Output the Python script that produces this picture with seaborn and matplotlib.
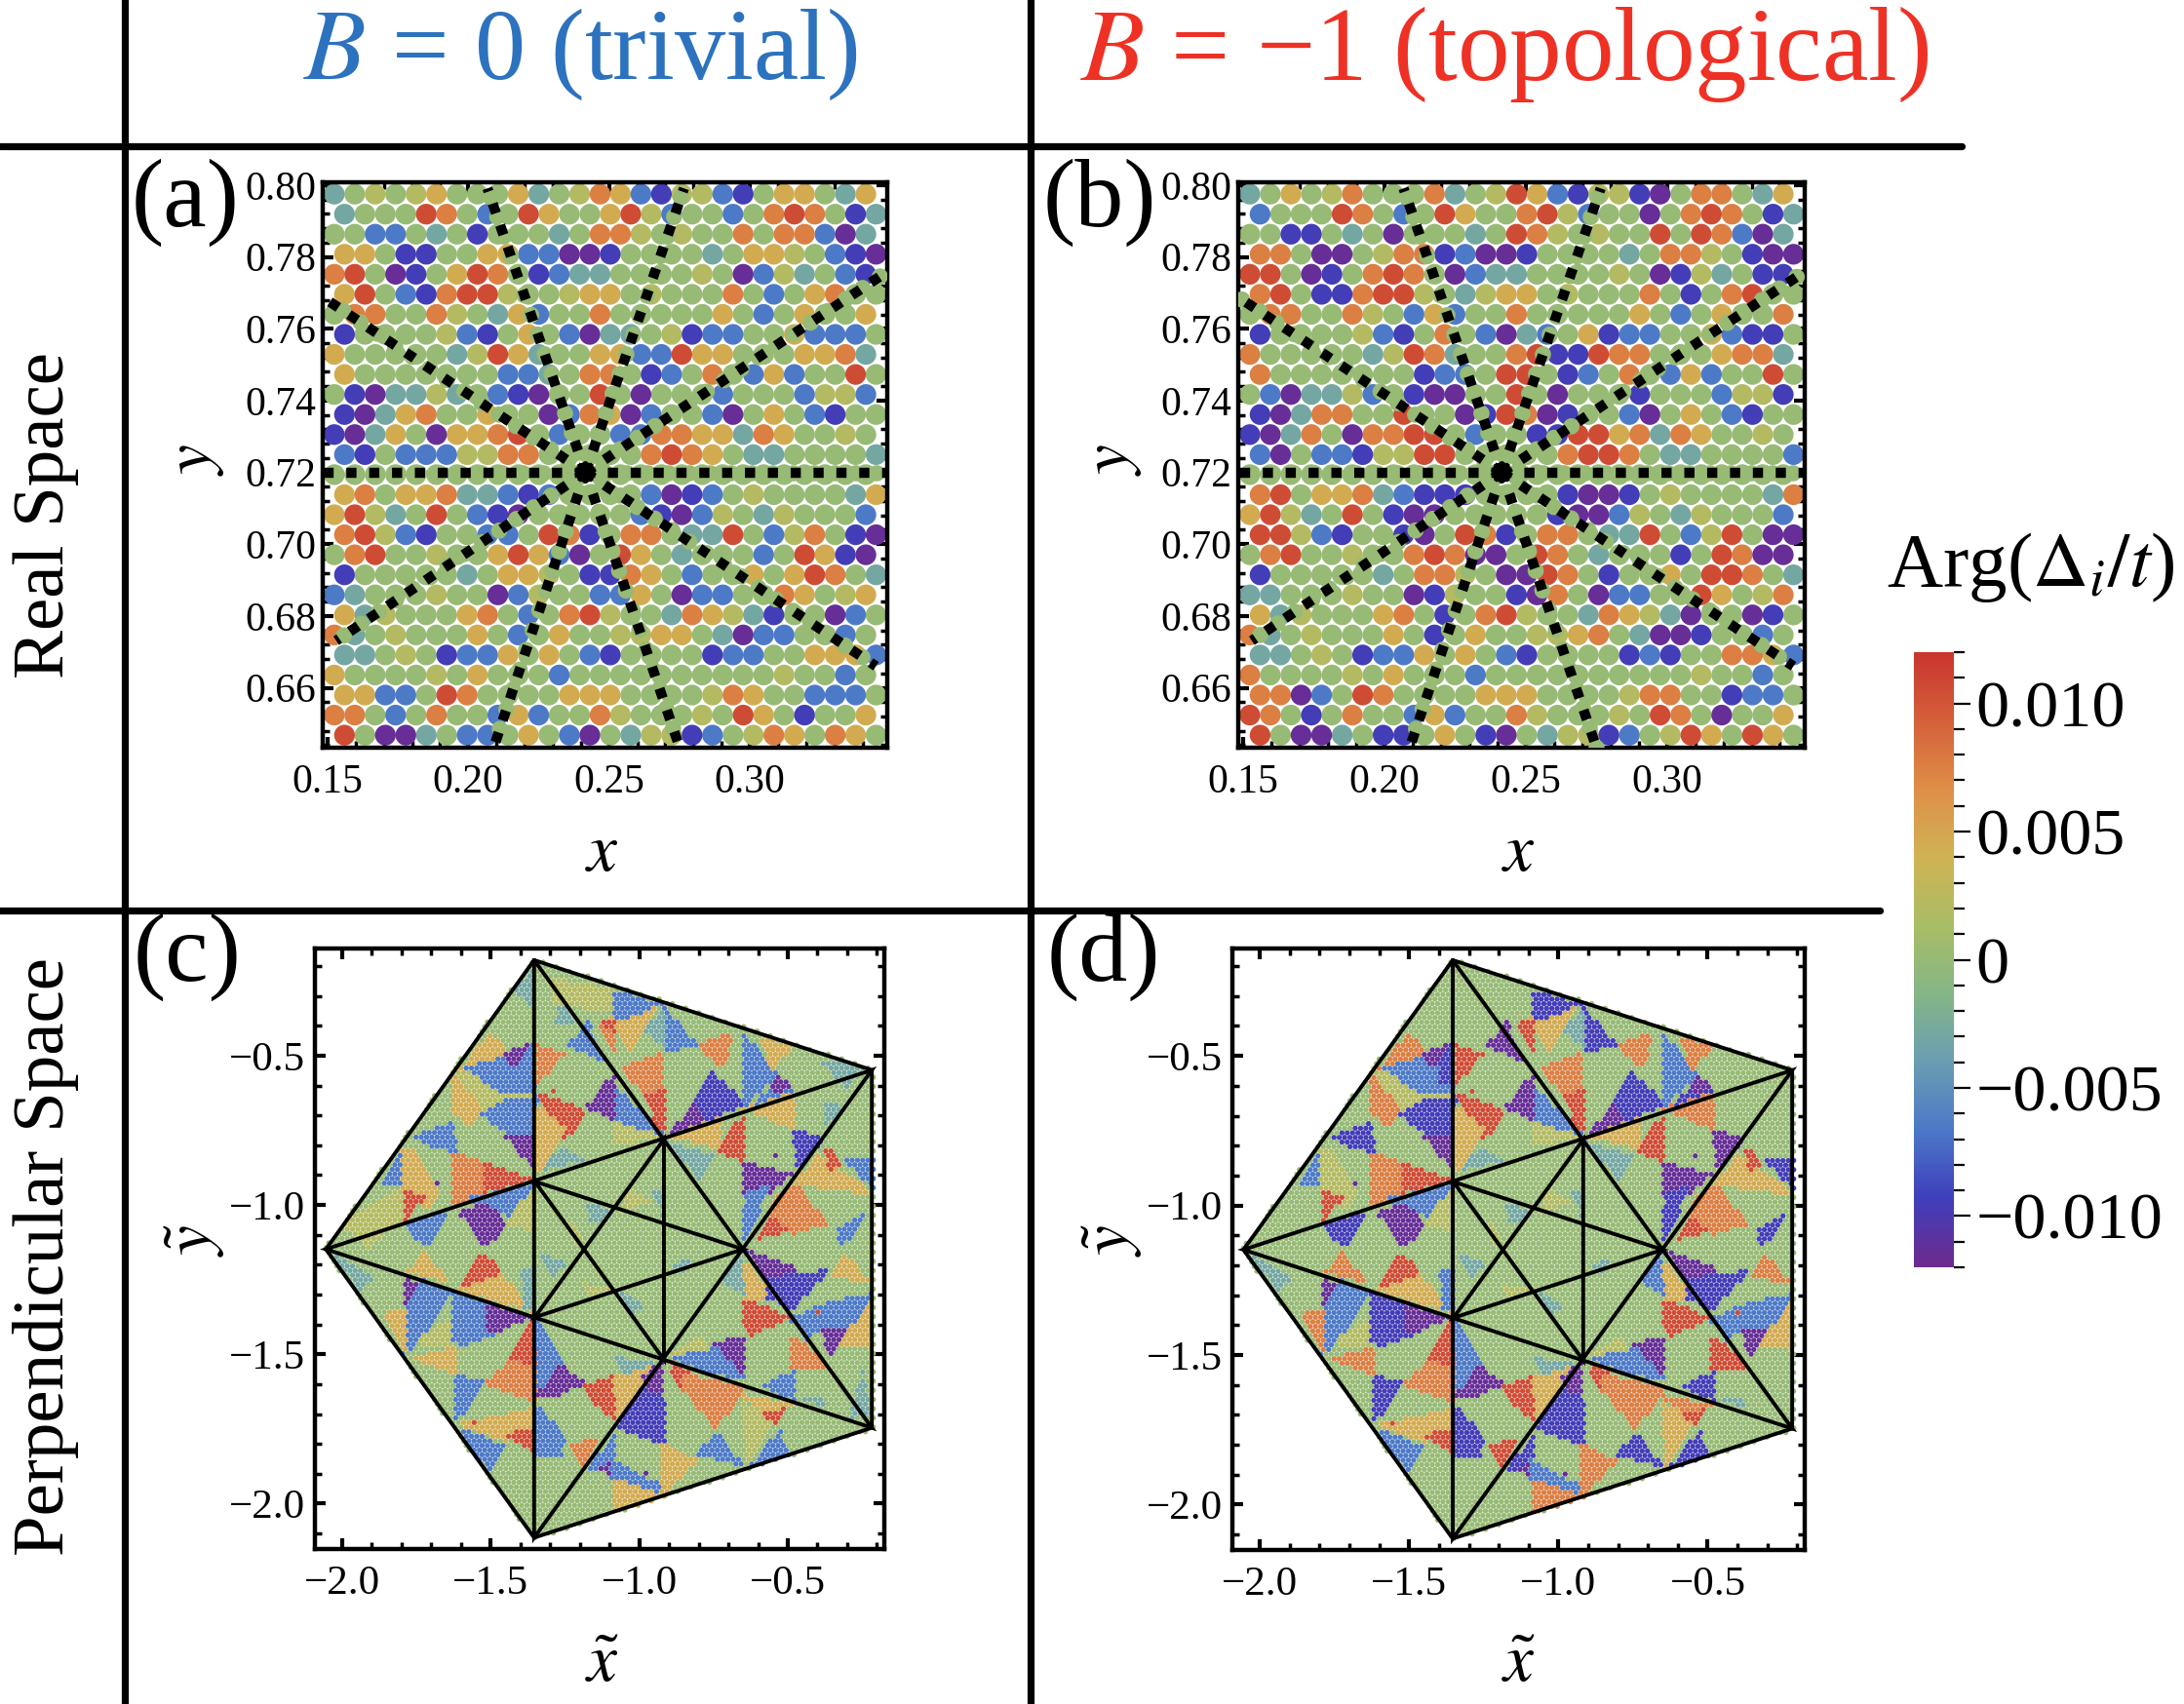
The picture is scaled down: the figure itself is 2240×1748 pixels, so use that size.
import numpy as np
import pandas as pd
import seaborn as sns
import matplotlib.pyplot as plt
from matplotlib.cm import ScalarMappable
from matplotlib.colors import LinearSegmentedColormap, Normalize
from matplotlib.lines import Line2D
from matplotlib.path import Path

# NOTE: colours are read by eye from the picture, per grid cell or per patch. The dot positions
# are not the original quasicrystal sites: they sit on a regular stand-in grid/lattice.

# colour codes, a = purple ... i = red
code_values = {"a": -0.0115, "b": -0.0095, "c": -0.0065, "d": -0.003, "e": 0.0,
               "f": 0.002, "g": 0.0045, "h": 0.0075, "i": 0.0105}

# real space dots, one string per row from the top
real_a = [
    "defefgeeegdefhgcbffcbeggedg", "deeeiheceigeegifceecehihebd", "eeccedebeeedehhfefeehehhcad",
    "ggebbeeggccaabeeeedeggfecba", "hieabegihebcddeeeefeacfdecb", "giecbhiifeefggefeeeheceghee",
    "ehheehfedgceeheeeeegecegeeg", "beeeefcbegecaddefbcceegccce", "geeeeedfigdeeggccigg" + "eeegghd",
    "geeeeeeeccdehhebcehecgceeie", "ebaddfdecbaeeieaeeeceeecffc", "badgheegeeachgaceecaegecbee",
    "badgeagghieceecchhggdhgeefe", "cbecccffhheeeeehihgeddeeeed", "eeeeeeeeeeeeeeeeeeeeeeeeeee",
    "gheggh" + "ddcbceeeecabcefeeeedg", "gifdeiecbaeeeeecbacfedfeeec", "hifcbeecceihbehheddiecfheba",
    "ehieefeegigcaeigedeeeceigba", "beeeeedeggfebbhgeceegegihed", "cdeeefeeacfeeccgeacceehgefg",
    "gdfeeeghecehifeedhgfdbeeace", "hdefeeegecegeeffggedacceece", "ddefebccgegecbeeeebcceegggc",
    "geeeefegeeeceeeeeeeeeefeece", "ggcceiheeeeggg" + "eeeefhgeeccce", "hhecehee" + "cgceehfeeefeigebeeg",
    "ieaadeccegecaedffbcefhgehge",
]
real_b = [
    "degefheeehdefigcbffbaehhedg", "ceeeiheceigeehifceeaehihebd", "eebbedeaeeedeihfefeeieihcad",
    "hheaaefhhbcaabeeeedehhfebaa", "iieabehiheacddeeeefeabfdebb", "hiebbhiifedfggefeeehebehiee",
    "ehheehfecgceeheeeeegecegeeh", "beeeefcbehecadcegbcceegcbbe", "heeeeedfihdeehibbihheeeghhd",
    "heeeeeeebcceiiebcehecgceeie", "ecaddfcebaaeeieaeeebeeecffb", "badhheeieeabihabeecaegecbee",
    "badheahhiieceebbiighdhgeefe", "caeccbffiieeeeehiiheddeeeec", "eeeeeeeeeeeeeeeeeeeeeeeeeee",
    "hiegghdcbbbeeeebaabefeeeedh", "gifdeiebaaeeeeebaacfedfeeec", "iifcbeebaeihbehheddiecfieaa",
    "ehieefeehihaaeihedeeebeihaa", "beeeeedehhfeaaihebeegeiihed", "ddeeefeeabfeebaheacceeigefh",
    "gdfeeeghebehifeedhgfdaeeabe", "hdefeeegebegeeffghedaabeece", "ddefebccgegecbeeeebcbeehhgc",
    "heeeefegeeeceeeeeeeeeefeece", "hhaceiheeeeggg" + "eeeefhheebcce", "ihebehee" + "cgceehfeeefeiheaeeg",
    "ieaadebbegebaedffbcefigeige",
]
real_x_first, real_x_last = 0.1524, 0.3412
real_y_first, real_y_last = 0.7975, 0.6468
ray_x = [0.2068, 0.2766, 0.1495, 0.3478, 0.1483, 0.3488, 0.3448, 0.2751, 0.2090, 0.1531]
ray_y = [0.7991, 0.7991, 0.7682, 0.7754, 0.7200, 0.7200, 0.6660, 0.6433, 0.6433, 0.6731]
ray_centre = (0.2416, 0.72)

# perpendicular space: star vertices
outer_x = [-1.354, -0.217, -0.217, -1.354, -2.055]
outer_y = [-0.180, -0.548, -1.746, -2.114, -1.148]
inner_x = [-0.917, -0.651, -0.917, -1.352, -1.352]
inner_y = [-0.780, -1.148, -1.518, -1.376, -0.921]

# pale bands under the strong patches, outlines as read on the crop of panel (c)
band_px = [
    [(680,130),(820,155),(830,200),(700,190)], [(145,800),(240,850),(215,880)],
    [(590,155),(635,110),(635,195)], [(470,345),(630,405),(620,430),(530,450),(445,365)],
    [(180,720),(320,640),(320,700),(240,770)], [(350,1010),(440,950),(440,1020)],
    [(970,1040),(1040,1000),(1060,1030)], [(1345,330),(1440,340),(1400,390)],
    [(770,670),(830,700),(780,720)], [(660,800),(720,820),(680,850)],
    [(1440,1090),(1460,1180),(1410,1190)],
]
band_c = "fddffffdddd"
band_d = "edefeffedde"

# same-coloured patches
patch_px = [
    [(470,340),(530,265),(570,305),(560,325)], [(480,345),(560,325),(620,340),(635,400),(560,400)],
    [(565,310),(625,290),(620,330),(590,340)], [(605,330),(637,290),(637,385),(610,375)],
    [(440,365),(505,440),(480,480),(440,450)], [(520,460),(570,430),(637,420),(637,520),(590,520),(560,490)],
    [(570,510),(637,510),(637,590),(600,545)], [(352,510),(435,480),(445,545),(390,535)],
    [(265,625),(322,545),(322,630)], [(322,550),(345,550),(400,640),(370,680),(335,640),(322,640)],
    [(322,640),(368,660),(322,715)], [(442,555),(520,585),(520,650),(442,675)],
    [(520,580),(630,615),(520,645)], [(335,720),(425,700),(380,775),(345,750)],
    [(470,665),(640,625),(570,700),(510,670)], [(460,700),(520,680),(565,720),(520,775),(490,730)],
    [(570,720),(638,640),(638,735)], [(335,840),(370,795),(425,860)],
    [(460,880),(515,795),(560,850)], [(460,885),(560,850),(620,930)],
    [(610,840),(638,840),(638,930),(615,920)], [(325,860),(365,880),(340,930),(325,910)],
    [(365,870),(425,895),(390,960),(325,1030),(325,930)], [(275,935),(322,935),(322,1030)],
    [(350,1050),(442,1025),(442,1085)], [(445,900),(530,925),(530,990),(470,1010),(445,1000)],
    [(530,925),(625,950),(560,980),(530,985)], [(578,1050),(638,960),(638,1075)],
    [(530,1110),(580,1060),(638,1075),(638,1150)], [(642,960),(680,1010),(710,1060),(650,1130)],
    [(650,1140),(700,1070),(755,1110),(700,1135)], [(760,1120),(830,1100),(835,1195),(790,1160)],
    [(835,1100),(925,1060),(845,1190)], [(905,1100),(950,1060),(950,1170)],
    [(850,1215),(905,1130),(950,1150),(950,1250)], [(840,1050),(930,1060),(860,1090)],
    [(445,1095),(515,1110),(445,1205)], [(470,1210),(638,1175),(638,1240),(570,1245)],
    [(575,1240),(610,1220),(635,1230),(635,1270)], [(465,1225),(565,1265),(525,1320)],
    [(645,1170),(710,1240),(700,1280),(645,1280)], [(730,1265),(790,1240),(760,1310)],
    [(775,1320),(835,1230),(835,1320)], [(790,1315),(835,1300),(835,1340)],
    [(835,1300),(950,1360),(930,1370),(835,1340)], [(835,1345),(945,1385),(835,1420)],
    [(955,1260),(1030,1300),(955,1375)], [(1040,1280),(1085,1235),(1145,1310)],
    [(1170,1310),(1235,1230),(1260,1290)], [(1150,1170),(1225,1190),(1160,1310)],
    [(975,1060),(1020,1090),(1030,1130),(985,1110)], [(1010,1095),(1140,1120),(1080,1210),(1010,1130)],
    [(1195,1185),(1255,1165),(1230,1210)], [(1150,1140),(1260,1160),(1200,1180)],
    [(1195,1115),(1270,1085),(1270,1150),(1220,1130)], [(1080,1020),(1150,1000),(1150,1095),(1120,1060)],
    [(985,1050),(1080,1030),(1150,1100),(1050,1080)], [(1150,905),(1250,950),(1170,990),(1150,960)],
    [(1150,815),(1230,905),(1150,905)], [(1100,860),(1145,790),(1148,890)],
    [(1160,790),(1280,830),(1210,860)], [(1210,860),(1345,840),(1270,925),(1215,900)],
    [(1365,850),(1395,795),(1450,860)], [(1275,955),(1340,925),(1450,900),(1390,1000),(1340,980),(1310,1000)],
    [(1345,985),(1395,985),(1355,1045)], [(1395,1010),(1460,905),(1460,1020)],
    [(1270,1000),(1330,1040),(1345,1075),(1270,1075)], [(1155,580),(1255,605),(1210,650),(1155,660)],
    [(1155,650),(1210,640),(1150,770)], [(1175,770),(1215,700),(1275,740),(1210,750)],
    [(1215,690),(1275,630),(1345,720),(1270,740)], [(1290,625),(1335,560),(1460,650),(1390,640)],
    [(1345,530),(1390,575),(1360,590)], [(1380,740),(1450,700),(1395,775)],
    [(1400,570),(1470,570),(1470,640)], [(1275,495),(1340,520),(1280,590)],
    [(1350,430),(1390,440),(1350,490)], [(1090,540),(1150,460),(1150,570)],
    [(975,510),(1085,470),(1085,535)], [(1150,440),(1270,400),(1270,490)],
    [(965,525),(1070,560),(1040,610)], [(970,505),(1040,420),(1060,470)],
    [(1040,420),(1075,365),(1145,430),(1060,470)], [(1170,440),(1210,400),(1265,400)],
    [(1210,375),(1240,365),(1265,395),(1225,400)], [(1150,265),(1225,360),(1150,430)],
    [(1190,275),(1270,290),(1220,340)], [(1040,290),(1120,260),(1100,340)],
    [(955,200),(1030,285),(960,300)], [(905,250),(955,210),(955,290)],
    [(835,225),(935,200),(870,300)], [(790,240),(835,225),(830,265)],
    [(790,240),(835,265),(835,320)], [(835,160),(935,190),(870,220),(835,220)],
    [(725,290),(770,240),(810,325)], [(860,350),(945,320),(955,440),(920,420)],
    [(910,420),(955,400),(955,510)], [(830,385),(950,505),(840,470)],
    [(770,440),(830,365),(835,465)], [(645,290),(705,315),(645,385)],
    [(650,410),(760,450),(715,510)], [(645,440),(710,500),(640,600)],
    [(660,590),(705,540),(755,570)], [(930,650),(950,650),(950,700)],
    [(970,830),(1020,800),(1000,840)], [(760,870),(830,880),(770,900)],
    [(855,895),(905,920),(880,940)], [(725,720),(760,760),(740,770)],
    [(700,190),(740,230),(690,240)], [(1300,1150),(1340,1140),(1345,1170)],
    [(840,480),(950,510),(840,530)], [(870,640),(920,670),(850,690)],
]
# one code per patch, ten to a block
patch_c = ("gcacgcaccg" "ihiccafgig" "dacggcaihc" "aigabdcgic" "chcacggccf"
           "ihigcacigd" "abgcaghaci" "hgiccbdigg" "dabcacghcd" "gihcchicah" "igdddfdfdd" "ff")
patch_d = ("hcabhbabcf" "ihibcafhig" "cachhbaihc" "aigabdbgic" "bibachhbbg"
           "ihihbacigc" "abhcagiabi" "hgibbaeigh" "dabbachhbd" "giibahicai" "igdddfdfed" "ff")
# lone dots inside the green areas
lone_px = [(403,622), (1232,558), (915,1328), (690,400), (495,1210), (598,1225), (1325,940)]
lone_code = "aaaiiii"
patch_grow = 1.2

arg_colors = ["#6E2A8E", "#3F3FBB", "#4C78C8", "#6A9DB2", "#84B686", "#A9BD66",
              "#CFB354", "#DE8F48", "#D5603A", "#C9352E"]
arg_ticks = [-0.010, -0.005, 0, 0.005, 0.010]
arg_labels = ["\u22120.010", "\u22120.005", "0", "0.005", "0.010"]

W, H = 2240, 1748
sns.set_theme(style="white")
plt.rcParams["font.family"] = ["Liberation Serif", "DejaVu Serif"]
plt.rcParams["mathtext.fontset"] = "stix"
plt.rcParams["text.color"] = "black"

arg_cmap = LinearSegmentedColormap.from_list("arg", arg_colors)
arg_norm = Normalize(-0.012, 0.012)


def frame_axes(fig, left, right, top, bottom):
    return fig.add_axes([left / W, 1 - bottom / H, (right - left) / W, (bottom - top) / H])


def style_frame(ax, size):
    for sp in ax.spines.values():
        sp.set_linewidth(3.2)
        sp.set_color("black")
    ax.tick_params(which="major", direction="in", top=True, right=True, bottom=True, left=True,
                   length=8, width=3, labelsize=size, color="black", labelcolor="black", pad=12)
    ax.tick_params(which="minor", direction="in", top=True, right=True, bottom=True, left=True,
                   length=5, width=2.5, color="black")
    ax.set_xlabel("")
    ax.set_ylabel("")


def read_xy(px):
    px = np.array(px, dtype=float)
    return np.column_stack([-2 + (px[:, 0] - 170) / 725, -0.5 - (px[:, 1] - 315) / 725])


def draw_real(ax, rows):
    xs = np.linspace(real_x_first, real_x_last, len(rows[0]))
    ys = np.linspace(real_y_first, real_y_last, len(rows))
    half = (xs[1] - xs[0]) / 2
    recs = []
    for r, row in enumerate(rows):
        for k, code in enumerate(row):
            recs.append((xs[k] + (half if r % 2 else 0), ys[r], code_values[code]))
    df = pd.DataFrame(recs, columns=["x", "y", "arg"]).sort_values("arg", key=np.abs)
    sns.scatterplot(data=df, x="x", y="y", hue="arg", hue_norm=arg_norm, palette=arg_cmap,
                    s=235, linewidth=0, legend=False, ax=ax)
    for ex, ey in zip(ray_x, ray_y):
        seg_x, seg_y = [ray_centre[0], ex], [ray_centre[1], ey]
        ax.plot(seg_x, seg_y, color=arg_cmap(arg_norm(0)), lw=12, dashes=(0.01, 1.27),
                dash_capstyle="round", zorder=3)
        ax.plot(seg_x, seg_y, color="black", lw=7.5, dashes=(1.0, 1.25), dash_capstyle="butt",
                clip_on=False, zorder=4)
    ax.set_xlim(0.1483, 0.3488)
    ax.set_ylim(0.6433, 0.8008)
    ax.set_xticks([0.15, 0.20, 0.25, 0.30], ["0.15", "0.20", "0.25", "0.30"])
    ax.set_yticks(np.arange(0.66, 0.801, 0.02), [f"{v:.2f}" for v in np.arange(0.66, 0.801, 0.02)])
    ax.set_xticks(np.arange(0.15, 0.349, 0.01), minor=True)
    ax.set_yticks(np.arange(0.644, 0.801, 0.004), minor=True)
    style_frame(ax, 30)
    ax.tick_params(axis="y", which="major", pad=5)


def draw_perp(ax, bands, codes):
    pent = Path(np.column_stack([outer_x, outer_y]))
    pitch = 0.0178
    gx, gy = [], []
    for r, yy in enumerate(np.arange(-2.16, -0.13, pitch * 0.866)):
        off = pitch / 2 if r % 2 else 0
        for xx in np.arange(-2.09, -0.17, pitch):
            gx.append(xx + off)
            gy.append(yy)
    sites = np.column_stack([gx, gy])
    sites = sites[pent.contains_points(sites, radius=0.012) | pent.contains_points(sites, radius=-0.012)]
    arg = np.zeros(len(sites))
    for outline, code in zip(band_px + patch_px, bands + codes):
        poly = read_xy(outline)
        mid = poly.mean(axis=0)
        poly = mid + (poly - mid) * patch_grow
        arg[Path(poly).contains_points(sites)] = code_values[code]
    for (lx, ly), code in zip(read_xy(lone_px), lone_code):
        arg[np.argmin((sites[:, 0] - lx) ** 2 + (sites[:, 1] - ly) ** 2)] = code_values[code]
    df = pd.DataFrame({"x": sites[:, 0], "y": sites[:, 1], "arg": arg})
    sns.scatterplot(data=df, x="x", y="y", hue="arg", hue_norm=arg_norm, palette=arg_cmap,
                    s=15, linewidth=0, legend=False, ax=ax)
    outer = list(zip(outer_x, outer_y))
    inner = list(zip(inner_x, inner_y))
    chains = [[outer[i] for i in (0, 1, 2, 3, 4, 0)], [outer[i] for i in (0, 3, 1, 4, 2, 0)],
              [inner[i] for i in (4, 1, 3, 0, 2, 4)]]
    for chain in chains:
        cx, cy = zip(*chain)
        ax.plot(cx, cy, color="black", lw=2.8, solid_joinstyle="miter", zorder=4)
    ax.set_xlim(-2.092, -0.175)
    ax.set_ylim(-2.152, -0.141)
    major = [-2.0, -1.5, -1.0, -0.5]
    major_text = ["\u22122.0", "\u22121.5", "\u22121.0", "\u22120.5"]
    ax.set_xticks(major, major_text)
    ax.set_yticks(major, major_text)
    ax.set_xticks(np.arange(-2.0, -0.17, 0.1), minor=True)
    ax.set_yticks(np.arange(-2.1, -0.14, 0.1), minor=True)
    style_frame(ax, 31)
    ax.tick_params(axis="y", which="major", pad=7)


fig = plt.figure(figsize=(W / 100, H / 100), dpi=100)

draw_real(frame_axes(fig, 331, 910, 187, 767), real_a)
draw_real(frame_axes(fig, 1270, 1851, 187, 767), real_b)
draw_perp(frame_axes(fig, 323, 907, 973, 1589), band_c, patch_c)
draw_perp(frame_axes(fig, 1264, 1851, 973, 1590), band_d, patch_d)

cax = frame_axes(fig, 1963, 2004, 669, 1300)
cb = fig.colorbar(ScalarMappable(norm=arg_norm, cmap=arg_cmap), cax=cax)
cb.outline.set_visible(False)
cb.set_ticks(arg_ticks, labels=arg_labels)
cb.ax.set_yticks(np.arange(-0.012, 0.0121, 0.001), minor=True)
cb.ax.tick_params(which="major", right=True, direction="out", length=12, width=1.6, labelsize=49, pad=4,
                  color="black", labelcolor="black")
cb.ax.tick_params(which="minor", right=True, direction="out", length=8, width=1.6, color="black")


def put(px, py, text, size, **kw):
    kw.setdefault("color", "black")
    fig.text(px / W, 1 - py / H, text, fontsize=size, ha="center", va="center", **kw)


put(595, 56, "$B$ = 0 (trivial)", 75, color="#2C72BE")
put(1543, 56, "$B$ = \u22121 (topological)", 77, color="#EE3124")
put(190, 208, "(a)", 72)
put(1128, 208, "(b)", 72)
put(192, 982, "(c)", 72)
put(1132, 982, "(d)", 72)
put(47, 529, "Real Space", 54, rotation=90)
put(47, 1289, "Perpendicular Space", 54, rotation=90)
put(2083, 582, r"Arg($\Delta_i/t$)", 57)
for px in (617, 1557):
    put(px, 876, "$x$", 50)
    put(px, 1708, r"$\tilde{x}$", 50)
for px in (200, 1141):
    put(px, 471, "$y$", 50, rotation=90)
    put(px, 1272, r"$\tilde{y}$", 50, rotation=90)

# table rules
for x0, x1, y0, y1 in [(128, 128, 0, H), (1057, 1057, 0, H), (0, 2012, 150, 150), (0, 1928, 934, 934)]:
    fig.add_artist(Line2D([x0 / W, x1 / W], [1 - y0 / H, 1 - y1 / H], color="black", lw=5.2))

fig.savefig("out.png", dpi=100, facecolor="white")
